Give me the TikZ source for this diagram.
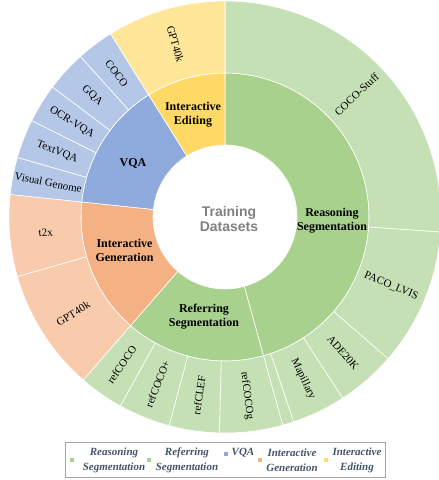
\documentclass[tikz,border=0pt]{standalone}
\usepackage{fontspec}
\setmainfont{Liberation Serif}
\newfontfamily\hubfont{Liberation Sans}
\usepackage{tikz}
\usepackage{xcolor}

\definecolor{greenin}{HTML}{A9D18E}
\definecolor{greenout}{HTML}{C5E0B4}
\definecolor{bluein}{HTML}{8FAADC}
\definecolor{blueout}{HTML}{B4C7E7}
\definecolor{orangein}{HTML}{F4B183}
\definecolor{orangeout}{HTML}{F8CBAD}
\definecolor{yellowin}{HTML}{FFD966}
\definecolor{yellowout}{HTML}{FFE699}
\definecolor{legendtext}{HTML}{44546A}

% ring piece: colour, start angle, end angle, inner radius, outer radius
\newcommand{\ringpart}[5]{%
	\filldraw[fill=#1, draw=white, line width=0.6pt] (#2:#4) arc[start angle=#2, end angle=#3, radius=#4]
		-- (#3:#5) arc[start angle=#3, end angle=#2, radius=#5] -- cycle;}

\begin{document}
\begin{tikzpicture}[x=1pt, y=1pt,
	inlbl/.style={font=\fontsize{12}{14}\selectfont\bfseries, align=center},
	outlbl/.style={font=\fontsize{11}{12}\selectfont},
	legtxt/.style={font=\fontsize{11}{15}\selectfont\bfseries\itshape, text=legendtext, align=center},
	legmark/.style={minimum size=3.5pt, inner sep=0pt}]
		\useasboundingbox (-225,-263) rectangle (214,217);
		%
		%inner ring
		\ringpart{greenin}{90}{-74.5}{72pt}{144pt}
		\ringpart{greenin}{-74.5}{-131}{72pt}{144pt}
		\ringpart{orangein}{-131}{-186}{72pt}{144pt}
		\ringpart{bluein}{-186}{-238}{72pt}{144pt}
		\ringpart{yellowin}{-238}{-270}{72pt}{144pt}
		%
		%outer ring, Reasoning Segmentation
		\ringpart{greenout}{90}{-4}{144pt}{216pt}
		\ringpart{greenout}{-4}{-41}{144pt}{216pt}
		\ringpart{greenout}{-41}{-57}{144pt}{216pt}
		\ringpart{greenout}{-57}{-71.5}{144pt}{216pt}
		\ringpart{greenout}{-71.5}{-74.5}{144pt}{216pt}
		%
		%outer ring, Referring Segmentation
		\ringpart{greenout}{-74.5}{-91.5}{144pt}{216pt}
		\ringpart{greenout}{-91.5}{-105}{144pt}{216pt}
		\ringpart{greenout}{-105}{-119}{144pt}{216pt}
		\ringpart{greenout}{-119}{-131}{144pt}{216pt}
		%
		%outer ring, Interactive Generation
		\ringpart{orangeout}{-131}{-164}{144pt}{216pt}
		\ringpart{orangeout}{-164}{-186}{144pt}{216pt}
		%
		%outer ring, VQA
		\ringpart{blueout}{-186}{-196}{144pt}{216pt}
		\ringpart{blueout}{-196}{-206.5}{144pt}{216pt}
		\ringpart{blueout}{-206.5}{-217}{144pt}{216pt}
		\ringpart{blueout}{-217}{-228}{144pt}{216pt}
		\ringpart{blueout}{-228}{-238}{144pt}{216pt}
		%
		%outer ring, Interactive Editing
		\ringpart{yellowout}{-238}{-270}{144pt}{216pt}
		%
		%centre
		\node[font=\hubfont\fontsize{14}{15}\selectfont\bfseries, text=black!50, align=center] (hub) at (4,-2) {Training\\Datasets};
		%
		%categories
		\node[inlbl] (reason) at (107,-3.5) {Reasoning\\Segmentation};
		\node[inlbl] (refer) at (-21,-100) {Referring\\Segmentation};
		\node[inlbl] (igen) at (-100.5,-33) {Interactive\\Generation};
		\node[inlbl] (vqa) at (-92,54) {VQA};
		\node[inlbl] (iedit) at (-32,102) {Interactive\\Editing};
		%
		%datasets
		\node[outlbl, rotate=43] (cocostuff) at (43:180pt) {COCO-Stuff};
		\node[outlbl, rotate=-22.5] (paco) at (-22.5:180pt) {PACO\_LVIS};
		\node[outlbl, rotate=-49] (ade) at (-49:180pt) {ADE20K};
		\node[outlbl, rotate=-64.25] (mapillary) at (-64.25:180pt) {Mapillary};
		\node[outlbl, rotate=-83] (refcocog) at (-83:180pt) {refCOCOg};
		\node[outlbl, rotate=81.75] (refclef) at (-98.25:180pt) {refCLEF};
		\node[outlbl, rotate=68] (refcocop) at (-112:180pt) {refCOCO+};
		\node[outlbl, rotate=55] (refcoco) at (-125:180pt) {refCOCO};
		\node[outlbl, rotate=32.5] (gengpt) at (-147.5:180pt) {GPT40k};
		\node[outlbl, rotate=5] (ttx) at (-175:180pt) {t2x};
		\node[outlbl, rotate=-11] (vg) at (-191:180pt) {Visual Genome};
		\node[outlbl, rotate=-21.25] (textvqa) at (-201.25:180pt) {TextVQA};
		\node[outlbl, rotate=-31.75] (ocrvqa) at (-211.75:180pt) {OCR-VQA};
		\node[outlbl, rotate=-42.5] (gqa) at (-222.5:180pt) {GQA};
		\node[outlbl, rotate=-53] (coco) at (-233:180pt) {COCO};
		\node[outlbl, rotate=-74] (editgpt) at (-254:180pt) {GPT40k};
		%
		%legend
		\node[draw=black!35, line width=0.8pt, minimum width=320pt, minimum height=35pt] (legend) at (0,-242.5) {};
		\node[legmark, fill=greenin] (mreason) at (-153,-243) {};
		\node[legtxt] (lreason) at (-111,-243) {Reasoning\\Segmentation};
		\node[legmark, fill=greenin] (mrefer) at (-76,-243) {};
		\node[legtxt] (lrefer) at (-38,-243) {Referring\\Segmentation};
		\node[legmark, fill=bluein] (mvqa) at (1,-237) {};
		\node[legtxt] (lvqa) at (18,-236) {VQA};
		\node[legmark, fill=orangein] (migen) at (35,-243) {};
		\node[legtxt] (ligen) at (67,-243) {Interactive\\Generation};
		\node[legmark, fill=yellowin] (miedit) at (101,-243) {};
		\node[legtxt] (liedit) at (132,-243) {Interactive\\Editing};
	\end{tikzpicture}
\end{document}
